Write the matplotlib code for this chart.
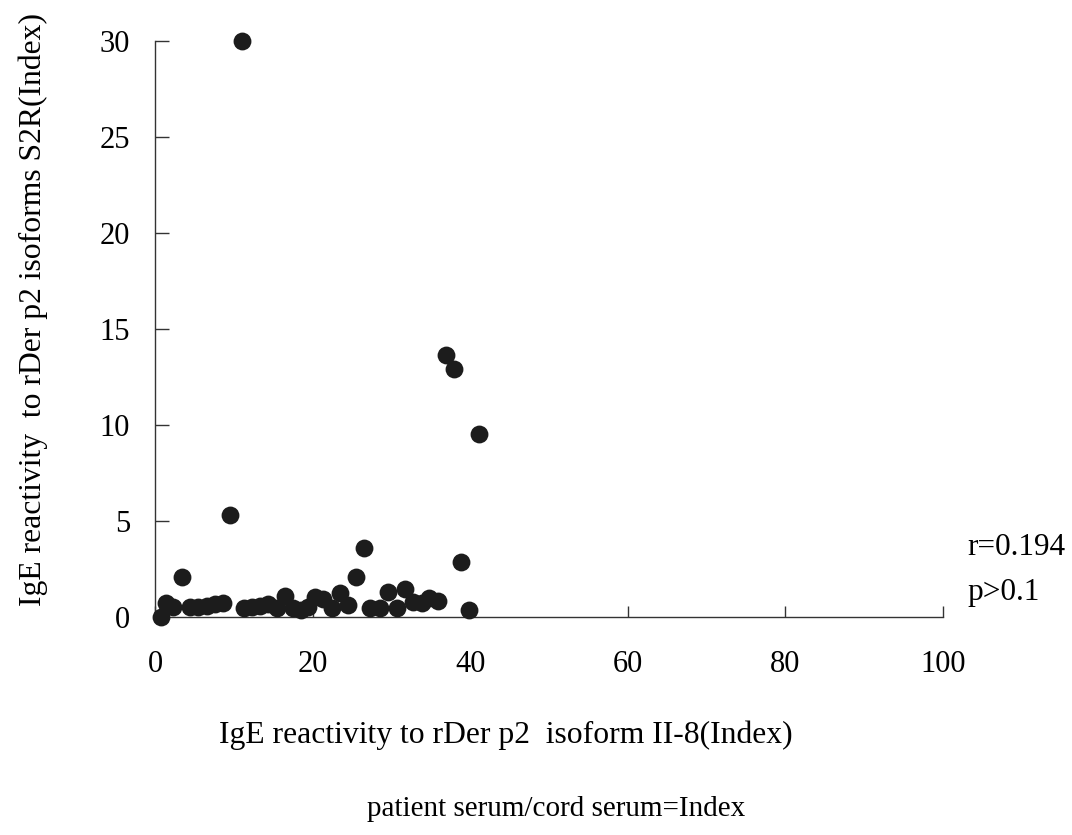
import matplotlib.pyplot as plt # グラフ描画用ライブラリ
import matplotlib
matplotlib.use('Agg') # 画面なし環境で描画

# 横軸: rDer p2 isoform II-8 に対する IgE 反応性 (Index)
x_values = [0.8, 1.4, 2.3, 3.4, 4.4, 5.5, 6.6, 7.6, 8.6, 9.5, 11.0,
            11.3, 12.3, 13.3, 14.3, 15.5, 16.5, 17.5, 18.5, 19.4, 20.3,
            21.3, 22.5, 23.5, 24.5, 25.5, 26.5, 27.3, 28.6, 29.6, 30.7,
            31.7, 32.7, 33.9, 34.8, 35.9, 36.9, 38.0, 38.8, 39.8, 41.1]
# 縦軸: rDer p2 isoforms S2R に対する IgE 反応性 (Index)
y_values = [0.0, 0.73, 0.52, 2.08, 0.52, 0.52, 0.57, 0.68, 0.73, 5.3, 30.0,
            0.47, 0.52, 0.57, 0.68, 0.47, 1.09, 0.47, 0.36, 0.52, 1.04,
            0.94, 0.47, 1.25, 0.62, 2.08, 3.59, 0.47, 0.47, 1.30, 0.47,
            1.46, 0.78, 0.73, 0.99, 0.83, 13.65, 12.9, 2.86, 0.36, 9.53]

x_ticks = [0, 20, 40, 60, 80, 100]
y_ticks = [0, 5, 10, 15, 20, 25, 30]

x_label = 'IgE reactivity to rDer p2  isoform II-8(Index)'
y_label = 'IgE reactivity  to rDer p2 isoforms S2R(Index)'
note_label = 'patient serum/cord serum=Index'
stat_lines = ['r=0.194', 'p>0.1']


def draw_scatter():
    # 明朝系の代わりにセリフ体を使用
    plt.rcParams['font.family'] = ['Liberation Serif', 'DejaVu Serif']
    fig = plt.figure(figsize=(10.72, 8.35), dpi=100)
    ax = fig.add_axes([0.1446, 0.2611, 0.735, 0.6898])

    # 散布図 (黒丸)
    ax.scatter(x_values, y_values, s=165, color='#1c1c1c', zorder=3,
               clip_on=False, linewidths=0)

    ax.set_xlim(0, 100)
    ax.set_ylim(0, 30)
    ax.set_xticks(x_ticks)
    ax.set_yticks(y_ticks)

    # 上と右の枠線は消す
    ax.spines['top'].set_visible(False)
    ax.spines['right'].set_visible(False)
    for side in ['left', 'bottom']:
        ax.spines[side].set_linewidth(1.0)
        ax.spines[side].set_color('#333333')

    ax.tick_params(axis='y', direction='in', length=10, width=1.0,
                   pad=18, labelsize=22, colors='#333333', labelcolor='black')
    ax.tick_params(axis='x', direction='in', length=8, width=1.0,
                   pad=24, labelsize=22, colors='#333333', labelcolor='black')

    # 軸ラベルと注記
    fig.text(0.031, 0.629, y_label, ha='center', va='center',
             rotation=90, fontsize=22.8)
    fig.text(0.472, 0.119, x_label, ha='center', va='center', fontsize=22.8)
    fig.text(0.519, 0.031, note_label, ha='center', va='center', fontsize=21)
    fig.text(0.902, 0.344, stat_lines[0], ha='left', va='center', fontsize=22.5)
    fig.text(0.902, 0.291, stat_lines[1], ha='left', va='center', fontsize=22.5)

    fig.savefig('out.png', dpi=100)
    plt.close(fig)


if __name__ == '__main__':
    draw_scatter()
